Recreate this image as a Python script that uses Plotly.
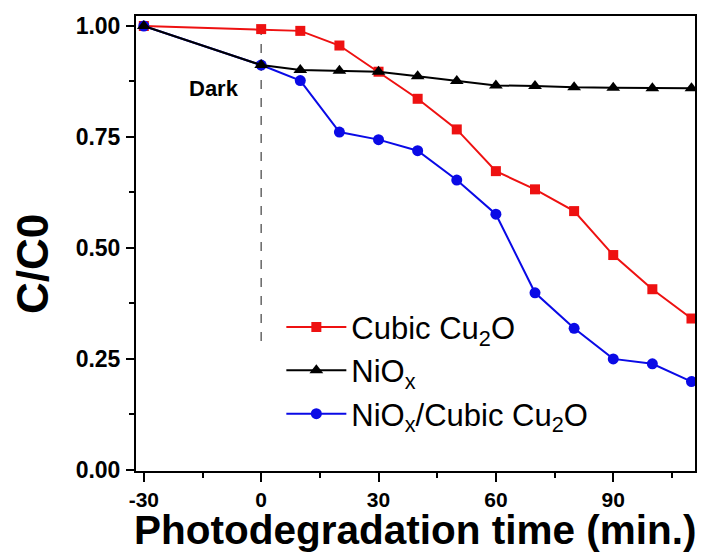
import plotly.graph_objects as go

time_min = [-30, 0, 10, 20, 30, 40, 50, 60, 70, 80, 90, 100, 110]
cubic_cu2o = [1.000, 0.993, 0.989, 0.956, 0.897, 0.836, 0.767, 0.673, 0.632, 0.583, 0.484, 0.407, 0.341]
niox = [1.000, 0.912, 0.901, 0.899, 0.897, 0.887, 0.876, 0.866, 0.865, 0.862, 0.861, 0.860, 0.860]
niox_cubic = [1.000, 0.912, 0.877, 0.761, 0.744, 0.719, 0.653, 0.576, 0.399, 0.319, 0.250, 0.239, 0.199]

x_ticks = [-30, 0, 30, 60, 90]
x_tick_text = ["-30", "0", "30", "60", "90"]
y_ticks = [0.00, 0.25, 0.50, 0.75, 1.00]

RED = "#ee1111"
BLUE = "#0a0ae6"
BLACK = "#000000"
FONT = "Liberation Sans, Arial, sans-serif"

fig = go.Figure()
fig.add_trace(go.Scatter(
    x=time_min, y=cubic_cu2o, mode="lines+markers", name="Cubic Cu<sub>2</sub>O",
    line=dict(color=RED, width=2), marker=dict(symbol="square", size=10, color=RED),
    legendrank=1))
fig.add_trace(go.Scatter(
    x=time_min, y=niox_cubic, mode="lines+markers", name="NiO<sub>x</sub>/Cubic Cu<sub>2</sub>O",
    line=dict(color=BLUE, width=2), marker=dict(symbol="circle", size=11, color=BLUE),
    legendrank=3))
fig.add_trace(go.Scatter(
    x=time_min, y=niox, mode="lines+markers", name="NiO<sub>x</sub>",
    line=dict(color=BLACK, width=2), marker=dict(symbol="triangle-up", size=12, color=BLACK),
    legendrank=2))

# dark/light boundary
fig.add_shape(type="line", x0=0, x1=0, y0=1.0, y1=0.275, xref="x", yref="y",
              line=dict(color="#666666", width=1.5, dash="dash"), layer="below")
fig.add_annotation(x=-12, y=0.86, xref="x", yref="y", text="<b>Dark</b>", showarrow=False,
                   font=dict(family=FONT, size=22, color="black"))

# axis titles
fig.add_annotation(x=0.5, y=0, xref="paper", yref="paper", yshift=-59, yanchor="middle",
                   text="<b>Photodegradation time (min.)</b>", showarrow=False, borderpad=0,
                   font=dict(family=FONT, size=40.5, color="black"))
fig.add_annotation(x=0, y=0.455, xref="paper", yref="paper", xshift=-103, xanchor="center",
                   text="<b>C/C0</b>", textangle=-90, showarrow=False, borderpad=0,
                   font=dict(family=FONT, size=44, color="black"))

axis_common = dict(showline=True, linecolor="black", linewidth=2, mirror=True,
                   showgrid=False, zeroline=False, ticks="outside", tickcolor="black",
                   tickwidth=2)

fig.update_xaxes(range=[-32, 110.9], tickvals=x_ticks, ticktext=x_tick_text, ticklen=9,
                 minor=dict(tickvals=[-15, 15, 45, 75, 105], ticklen=5, tickwidth=2,
                            ticks="outside", tickcolor="black"),
                 ticklabelstandoff=0,
                 tickfont=dict(family=FONT, size=21, color="black", weight="bold"),
                 **axis_common)
fig.update_yaxes(range=[-0.0025, 1.0225], tickvals=y_ticks, tickformat=".2f", ticklen=8,
                 minor=dict(tickvals=[0.125, 0.375, 0.625, 0.875], ticklen=5, tickwidth=2,
                            ticks="outside", tickcolor="black"),
                 ticklabelstandoff=1,
                 tickfont=dict(family=FONT, size=23, color="black", weight="bold"),
                 **axis_common)

fig.update_layout(
    width=708, height=554,
    margin=dict(l=136, r=13, t=16, b=83),
    plot_bgcolor="white", paper_bgcolor="white",
    font=dict(family=FONT, color="black"),
    showlegend=True,
    legend=dict(x=0.26, y=0.375, xanchor="left", yanchor="top",
                bgcolor="rgba(0,0,0,0)", borderwidth=0,
                font=dict(family=FONT, size=31, color="black"),
                itemwidth=60, tracegroupgap=0),
)

fig.write_html("out.html", config={"displayModeBar": False},
               post_script="document.body.style.margin='0px';")
